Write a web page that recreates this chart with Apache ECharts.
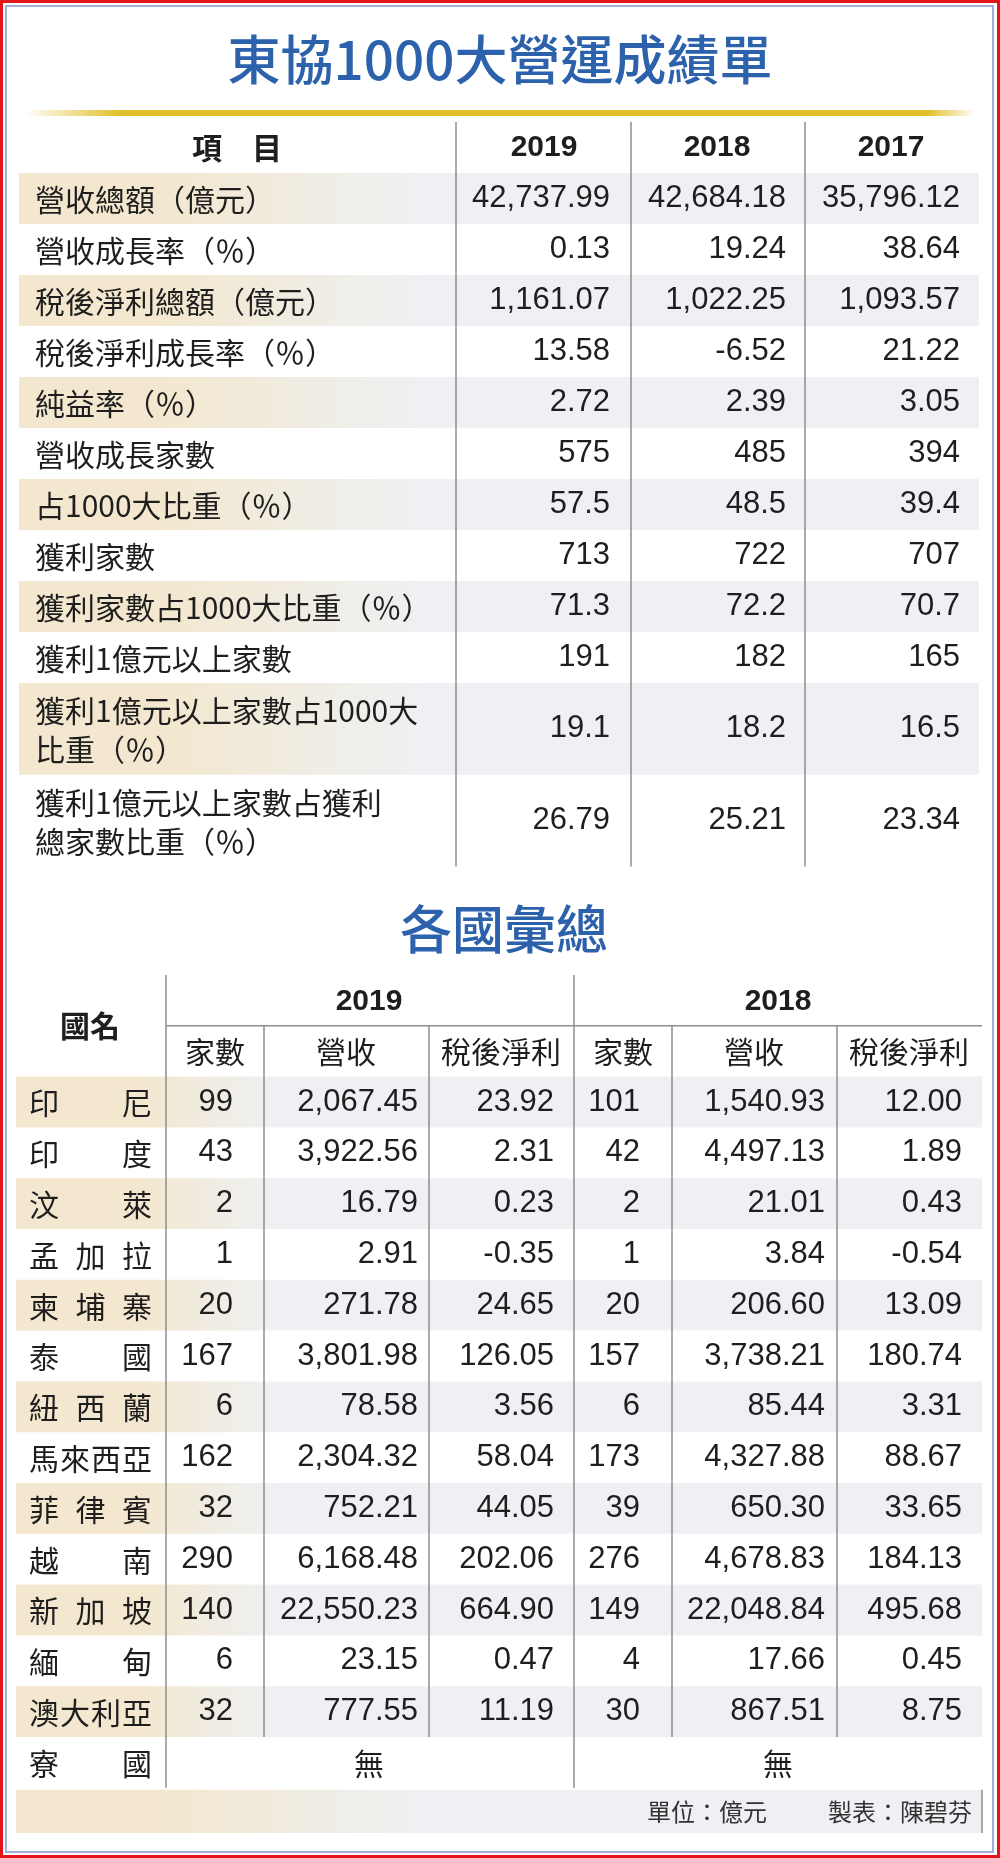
<!DOCTYPE html>
<html lang="zh-Hant">
<head>
    <meta charset="UTF-8">
    <title>東協1000大營運成績單</title>
    <script src="https://cdn.jsdelivr.net/npm/echarts@6/dist/echarts.min.js"></script>
    <style>
        html, body { margin: 0; padding: 0; background: #fff; }
        #main { width: 1000px; height: 1858px; }
    </style>
</head>
<body>
<div id="main"></div>
<script type="text/javascript">
    // 上表：東協1000大營運成績單
    var topItems = ['營收總額（億元）', '營收成長率（％）', '稅後淨利總額（億元）', '稅後淨利成長率（％）',
        '純益率（％）', '營收成長家數', '占1000大比重（％）', '獲利家數', '獲利家數占1000大比重（％）',
        '獲利1億元以上家數', '獲利1億元以上家數占1000大\n比重（％）', '獲利1億元以上家數占獲利\n總家數比重（％）'];
    var topYears = ['2019', '2018', '2017'];
    var top2019 = [42737.99, 0.13, 1161.07, 13.58, 2.72, 575, 57.5, 713, 71.3, 191, 19.1, 26.79];
    var top2018 = [42684.18, 19.24, 1022.25, -6.52, 2.39, 485, 48.5, 722, 72.2, 182, 18.2, 25.21];
    var top2017 = [35796.12, 38.64, 1093.57, 21.22, 3.05, 394, 39.4, 707, 70.7, 165, 16.5, 23.34];
    var topDigits = [2, 2, 2, 2, 2, 0, 1, 0, 1, 0, 1, 2];

    // 下表：各國彙總
    var countries = ['印尼', '印度', '汶萊', '孟加拉', '柬埔寨', '泰國', '紐西蘭', '馬來西亞', '菲律賓', '越南', '新加坡', '緬甸', '澳大利亞', '寮國'];
    var firms2019 = [99, 43, 2, 1, 20, 167, 6, 162, 32, 290, 140, 6, 32, null];
    var rev2019 = [2067.45, 3922.56, 16.79, 2.91, 271.78, 3801.98, 78.58, 2304.32, 752.21, 6168.48, 22550.23, 23.15, 777.55, null];
    var profit2019 = [23.92, 2.31, 0.23, -0.35, 24.65, 126.05, 3.56, 58.04, 44.05, 202.06, 664.90, 0.47, 11.19, null];
    var firms2018 = [101, 42, 2, 1, 20, 157, 6, 173, 39, 276, 149, 4, 30, null];
    var rev2018 = [1540.93, 4497.13, 21.01, 3.84, 206.60, 3738.21, 85.44, 4327.88, 650.30, 4678.83, 22048.84, 17.66, 867.51, null];
    var profit2018 = [12.00, 1.89, 0.43, -0.54, 13.09, 180.74, 3.31, 88.67, 33.65, 184.13, 495.68, 0.45, 8.75, null];
    var groupYears = ['2019', '2018'];
    var subHeads = ['家數', '營收', '稅後淨利'];
    var notes = ['單位：億元', '製表：陳碧芬'];

    // 版面設定
    var CJK = '"Noto Sans CJK TC", "Noto Sans CJK SC", sans-serif';
    var NUM = '"Liberation Sans", Arial, sans-serif';
    var INK = '#1e1e1e';
    var BEIGE = '#f3e8cf', GREY = '#eef0f3';

    var topSpan = [1, 1, 1, 1, 1, 1, 1, 1, 1, 1, 1.8, 1.8];
    var topRowTop = [];
    var acc = 1;
    for (var r = 0; r < topSpan.length; r++) { topRowTop.push(acc); acc += topSpan[r]; }
    var topMax = acc;   // 14.6
    var topUnit = 51;
    var topRight = [610, 786, 960];
    var topCenter = [544, 717, 891];
    var topLines = [[456, 0, topMax], [631, 0, topMax], [805, 0, topMax]];

    var botUnit = 50.8;
    var botMax = 16.9;
    var botRight = [[233, 418, 554], [640, 825, 962]];
    var botHeadX = [[215, 346, 501], [623, 754, 909]];
    var botGroupX = [369, 778];
    var botLines = [[166, 0, 16], [574, 0, 16], [264, 1, 15], [429, 1, 15], [672, 1, 15], [837, 1, 15], [982, 16.04, 16.89]];

    function fmt(v, d) {
        var s = Math.abs(v).toFixed(d).split('.');
        s[0] = s[0].replace(/\B(?=(\d{3})+(?!\d))/g, ',');
        return (v < 0 ? '-' : '') + s.join('.');
    }

    function grad(a, b) {
        return new echarts.graphic.LinearGradient(0, 0, 1, 0, [
            {offset: 0, color: BEIGE}, {offset: a, color: BEIGE}, {offset: b, color: GREY}, {offset: 1, color: GREY}
        ]);
    }

    function txt(x, y, text, size, family, weight, align, color, lh) {
        return {
            type: 'text', x: x, y: y, z2: 5,
            style: {
                text: text, fontSize: size, fontFamily: family, fontWeight: weight || 'normal',
                fill: color || INK, align: align, verticalAlign: 'middle', lineHeight: lh || size
            }
        };
    }

    // 上表表頭
    function renderTopHead(params, api) {
        var y = api.coord([0, 0.5])[1];
        var children = [txt(api.coord([237, 0])[0], y, '項　目', 30, CJK, 'bold', 'center')];
        topYears.forEach(function (yr, k) {
            children.push(txt(api.coord([topCenter[k], 0])[0], y, yr, 30, NUM, 'bold', 'center'));
        });
        return {type: 'group', children: children};
    }

    // 上表每列
    function renderTopRow(params, api) {
        var i = params.dataIndex;
        var p0 = api.coord([19, topRowTop[i]]);
        var p1 = api.coord([979, topRowTop[i] + topSpan[i]]);
        var cy = (p0[1] + p1[1]) / 2;
        var children = [];
        if (i % 2 === 0) {
            children.push({type: 'rect', shape: {x: p0[0], y: p0[1], width: p1[0] - p0[0], height: p1[1] - p0[1]},
                style: {fill: grad(0.15, 0.42)}});
        }
        children.push(txt(api.coord([35, 0])[0], cy + 1, topItems[i], 30, CJK, 'normal', 'left', INK, 39));
        [top2019, top2018, top2017].forEach(function (arr, k) {
            children.push(txt(api.coord([topRight[k], 0])[0], cy, fmt(arr[i], topDigits[i]), 31, NUM, 'normal', 'right'));
        });
        return {type: 'group', children: children};
    }

    // 表格線
    function renderLine(params, api) {
        var x = api.value(0), y0 = api.value(1), y1 = api.value(2);
        var a = api.coord([x, y0]), b = api.coord([x, y1]);
        return {type: 'line', shape: {x1: a[0], y1: a[1], x2: b[0], y2: b[1]},
            style: {stroke: '#8e8e8e', lineWidth: 1.5}};
    }
    function renderHLine(params, api) {
        var a = api.coord([api.value(0), api.value(2)]), b = api.coord([api.value(1), api.value(2)]);
        return {type: 'line', shape: {x1: a[0], y1: a[1], x2: b[0], y2: b[1]},
            style: {stroke: '#8e8e8e', lineWidth: 1.5}};
    }

    // 下表表頭
    function renderBotHead(params, api) {
        var children = [txt(api.coord([90, 0])[0], api.coord([0, 1])[1], '國名', 30, CJK, 'bold', 'center')];
        var y0 = api.coord([0, 0.52])[1], y1 = api.coord([0, 1.5])[1];
        groupYears.forEach(function (yr, g) {
            children.push(txt(api.coord([botGroupX[g], 0])[0], y0, yr, 30, NUM, 'bold', 'center'));
            subHeads.forEach(function (h, k) {
                children.push(txt(api.coord([botHeadX[g][k], 0])[0], y1, h, 30, CJK, 'normal', 'center'));
            });
        });
        return {type: 'group', children: children};
    }

    // 下表每列
    function renderBotRow(params, api) {
        var i = params.dataIndex;
        var p0 = api.coord([16, 2 + i]);
        var p1 = api.coord([982, 3 + i]);
        var cy = (p0[1] + p1[1]) / 2;
        var children = [];
        if (i % 2 === 0 && i < countries.length - 1) {
            children.push({type: 'rect', shape: {x: p0[0], y: p0[1], width: p1[0] - p0[0], height: p1[1] - p0[1]},
                style: {fill: grad(0.13, 0.27)}});
        }
        // 國名左右對齊分散
        var name = countries[i], n = name.length;
        var xa = api.coord([44, 0])[0], xb = api.coord([137, 0])[0];
        for (var c = 0; c < n; c++) {
            children.push(txt(xa + c * (xb - xa) / (n - 1), cy + 1, name.charAt(c), 30, CJK, 'normal', 'center'));
        }
        var groups = [[firms2019, rev2019, profit2019], [firms2018, rev2018, profit2018]];
        groups.forEach(function (grp, g) {
            if (grp[0][i] === null) {
                children.push(txt(api.coord([botGroupX[g], 0])[0], cy + 1, '無', 30, CJK, 'normal', 'center'));
                return;
            }
            grp.forEach(function (arr, k) {
                children.push(txt(api.coord([botRight[g][k], 0])[0], cy, fmt(arr[i], k === 0 ? 0 : 2), 31, NUM, 'normal', 'right'));
            });
        });
        return {type: 'group', children: children};
    }

    // 下表註記列
    function renderFoot(params, api) {
        var p0 = api.coord([16, 16.04]), p1 = api.coord([982, 16.89]);
        var cy = (p0[1] + p1[1]) / 2;
        return {type: 'group', children: [
            {type: 'rect', shape: {x: p0[0], y: p0[1], width: p1[0] - p0[0], height: p1[1] - p0[1]},
                style: {fill: grad(0.15, 0.42)}},
            txt(api.coord([647, 0])[0], cy, notes[0], 24, CJK, 'normal', 'left', '#333'),
            txt(api.coord([828, 0])[0], cy, notes[1], 24, CJK, 'normal', 'left', '#333')
        ]};
    }

    var myChart = echarts.init(document.getElementById('main'));
    var option = {
        animation: false,
        backgroundColor: '#fff',
        title: [{
            text: '東協1000大營運成績單', left: 'center', top: 33, padding: 0,
            textStyle: {fontSize: 53, fontFamily: CJK, fontWeight: 500, color: '#2c62ab'}
        }, {
            text: '各國彙總', left: 400, top: 903, padding: 0,
            textStyle: {fontSize: 52, fontFamily: CJK, fontWeight: 500, color: '#2c62ab'}
        }],
        graphic: [
            {type: 'rect', shape: {x: 1.5, y: 1.5, width: 997, height: 1855},
                style: {fill: null, stroke: '#e3141c', lineWidth: 3}},
            {type: 'rect', shape: {x: 6, y: 6, width: 987, height: 1846},
                style: {fill: null, stroke: '#8197cd', lineWidth: 1.5}},
            {type: 'rect', shape: {x: 25, y: 110, width: 950, height: 6},
                style: {fill: new echarts.graphic.LinearGradient(0, 0, 1, 0, [
                    {offset: 0, color: 'rgba(225,192,43,0)'}, {offset: 0.1, color: '#e1c02b'},
                    {offset: 0.95, color: '#e1c02b'}, {offset: 1, color: 'rgba(225,192,43,0)'}])}}
        ],
        grid: [
            {left: 0, right: 0, top: 122, height: topMax * topUnit},
            {left: 0, right: 0, top: 975, height: botMax * botUnit}
        ],
        xAxis: [
            {type: 'value', gridIndex: 0, min: 0, max: 1000, show: false},
            {type: 'value', gridIndex: 1, min: 0, max: 1000, show: false}
        ],
        yAxis: [
            {type: 'value', gridIndex: 0, min: 0, max: topMax, inverse: true, show: false},
            {type: 'value', gridIndex: 1, min: 0, max: botMax, inverse: true, show: false}
        ],
        series: [
            {type: 'custom', xAxisIndex: 0, yAxisIndex: 0, clip: false, z: 2, renderItem: renderTopRow,
                data: topItems.map(function (n, i) { return [35, topRowTop[i]]; })},
            {type: 'custom', xAxisIndex: 0, yAxisIndex: 0, clip: false, z: 3, renderItem: renderTopHead,
                data: [[0, 0]]},
            {type: 'custom', xAxisIndex: 0, yAxisIndex: 0, clip: false, z: 4, renderItem: renderLine,
                encode: {x: 0, y: 1}, data: topLines},
            {type: 'custom', xAxisIndex: 1, yAxisIndex: 1, clip: false, z: 2, renderItem: renderBotRow,
                data: countries.map(function (n, i) { return [16, 2 + i]; })},
            {type: 'custom', xAxisIndex: 1, yAxisIndex: 1, clip: false, z: 2, renderItem: renderFoot,
                data: [[16, 16.04]]},
            {type: 'custom', xAxisIndex: 1, yAxisIndex: 1, clip: false, z: 3, renderItem: renderBotHead,
                data: [[0, 0]]},
            {type: 'custom', xAxisIndex: 1, yAxisIndex: 1, clip: false, z: 4, renderItem: renderLine,
                encode: {x: 0, y: 1}, data: botLines},
            {type: 'custom', xAxisIndex: 1, yAxisIndex: 1, clip: false, z: 4, renderItem: renderHLine,
                encode: {x: 0, y: 2}, data: [[166, 982, 1]]}
        ]
    };
    myChart.setOption(option);
</script>
</body>
</html>
